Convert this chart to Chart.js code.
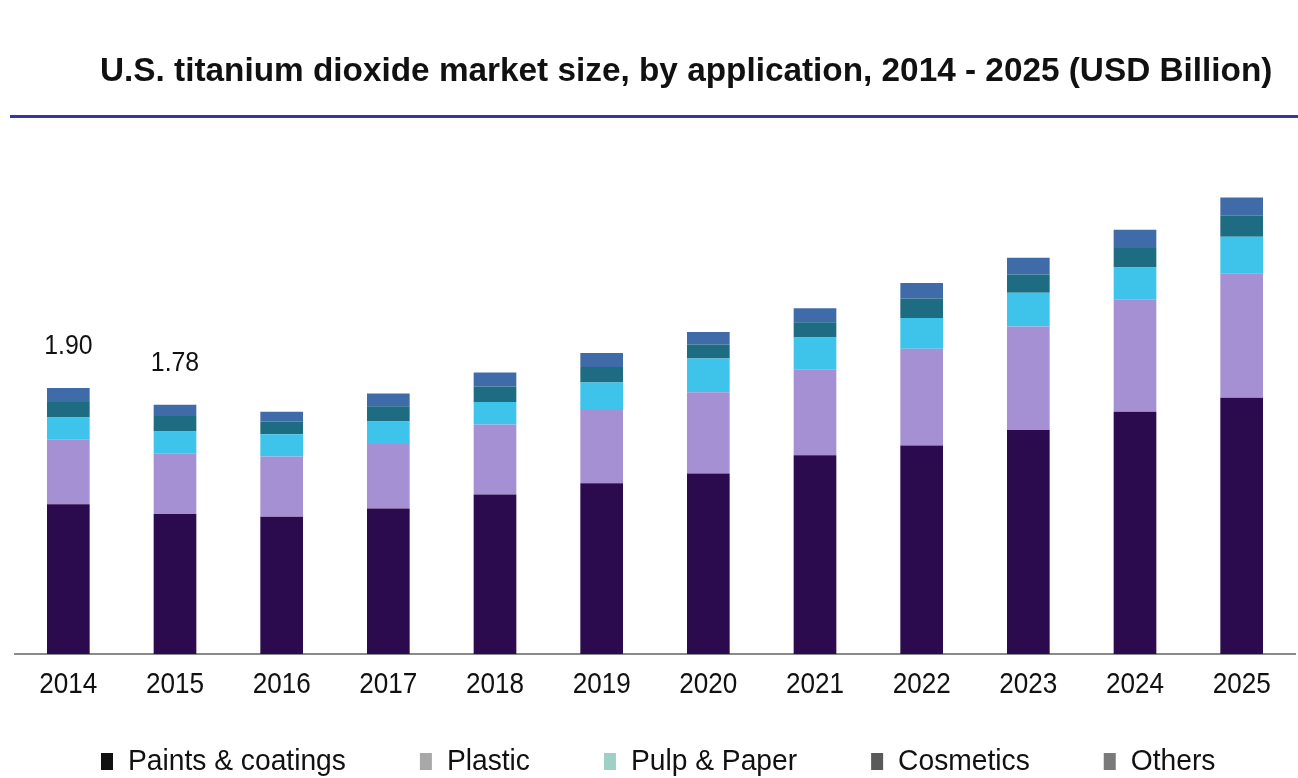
<!DOCTYPE html>
<html>
<head>
<meta charset="utf-8">
<script src="https://cdn.jsdelivr.net/npm/chart.js@4.4.1/dist/chart.umd.min.js"></script>
<style>
  html, body { margin: 0; padding: 0; background: #ffffff; }
  #wrap { width: 1298px; height: 778px; position: relative; }
</style>
</head>
<body>
<div id="wrap"><canvas id="myChart"></canvas></div>
<script>
// U.S. titanium dioxide market, USD billion
const years = ["2014", "2015", "2016", "2017", "2018", "2019", "2020", "2021", "2022", "2023", "2024", "2025"];
const paints    = [1.07, 1.00, 0.98, 1.04, 1.14, 1.22, 1.29, 1.42, 1.49, 1.60, 1.73, 1.83];
const plastic   = [0.46, 0.43, 0.43, 0.46, 0.50, 0.53, 0.58, 0.61, 0.69, 0.74, 0.80, 0.89];
const pulp      = [0.16, 0.16, 0.16, 0.16, 0.16, 0.19, 0.24, 0.23, 0.22, 0.24, 0.23, 0.26];
const cosmetics = [0.11, 0.11, 0.09, 0.11, 0.11, 0.11, 0.10, 0.11, 0.14, 0.13, 0.14, 0.15];
const others    = [0.10, 0.08, 0.07, 0.09, 0.10, 0.10, 0.09, 0.10, 0.11, 0.12, 0.13, 0.13];
const seriesNames = ["Paints & coatings", "Plastic", "Pulp & Paper", "Cosmetics", "Others"];
const totalLabelYears = ["2014", "2015"];

const barColors = ["#2b0a4e", "#a690d4", "#3ec4ea", "#1d6c82", "#3f6ca8"];
const legendColors = ["#111111", "#a8a8a8", "#9fd0c6", "#5a5a5a", "#7a7a7a"];

const textFont = "'Liberation Sans', Arial, sans-serif";

// draws text squeezed horizontally
function drawNarrow(ctx, text, x, y, sx, align) {
  ctx.save();
  const w = ctx.measureText(text).width * sx;
  let left = x;
  if (align === "center") left = x - w / 2;
  ctx.translate(left, y);
  ctx.scale(sx, 1);
  ctx.textAlign = "left";
  ctx.fillText(text, 0, 0);
  ctx.restore();
  return w;
}

const decorPlugin = {
  id: "decor",
  afterDraw(chart) {
    const ctx = chart.ctx;
    const xScale = chart.scales.x;
    const yScale = chart.scales.y;

    // title and rule
    ctx.save();
    ctx.fillStyle = "#111111";
    ctx.textBaseline = "alphabetic";
    ctx.font = "bold 33px " + textFont;
    drawNarrow(ctx, "U.S. titanium dioxide market size, by application, 2014 - 2025 (USD Billion)", 100, 81, 1.01, "left");
    ctx.fillStyle = "#3434b0";
    ctx.fillRect(10, 115, 1288, 3);

    // year labels
    ctx.fillStyle = "#111111";
    ctx.font = "30px " + textFont;
    ctx.textBaseline = "middle";
    years.forEach(function (yr, i) {
      drawNarrow(ctx, yr, xScale.getPixelForValue(i), 685, 0.87, "center");
    });

    // totals above the first bars
    ctx.font = "27px " + textFont;
    totalLabelYears.forEach(function (yr) {
      const i = years.indexOf(yr);
      const total = paints[i] + plastic[i] + pulp[i] + cosmetics[i] + others[i];
      const y = yScale.getPixelForValue(total) - 41;
      drawNarrow(ctx, total.toFixed(2), xScale.getPixelForValue(i), y, 0.92, "center");
    });

    // legend
    ctx.font = "30px " + textFont;
    ctx.textBaseline = "alphabetic";
    const sx = 0.94;
    const gap = 74;
    const boxW = 12, boxH = 17, boxGap = 15;
    const baseY = 770;
    let x = 101;
    seriesNames.forEach(function (n, i) {
      ctx.fillStyle = legendColors[i];
      ctx.fillRect(x, baseY - boxH, boxW, boxH);
      ctx.fillStyle = "#111111";
      const w = drawNarrow(ctx, n, x + boxW + boxGap, baseY, sx, "left");
      x += boxW + boxGap + w + gap;
    });
    ctx.restore();
  }
};

const seriesData = [paints, plastic, pulp, cosmetics, others];

let ctx = document.getElementById("myChart");
let myChart = new Chart(ctx, {
  type: "bar",
  data: {
    labels: years,
    datasets: seriesNames.map(function (name, i) {
      return {
        label: name,
        data: seriesData[i],
        backgroundColor: barColors[i],
        borderWidth: 0,
        barPercentage: 0.4,
        categoryPercentage: 1.0,
      };
    }),
  },
  options: {
    responsive: true,
    maintainAspectRatio: false,
    animation: false,
    layout: {
      padding: { top: 164, left: 15, right: 3, bottom: 124 },
    },
    plugins: {
      legend: { display: false },
      title: { display: false },
      tooltip: { enabled: false },
    },
    scales: {
      x: {
        stacked: true,
        grid: { display: false, drawTicks: false },
        border: { display: true, color: "#8a8a8a", width: 2 },
        ticks: { display: false },
      },
      y: {
        stacked: true,
        display: false,
        min: 0,
        max: 3.5,
      },
    },
  },
  plugins: [decorPlugin],
});
</script>
</body>
</html>
